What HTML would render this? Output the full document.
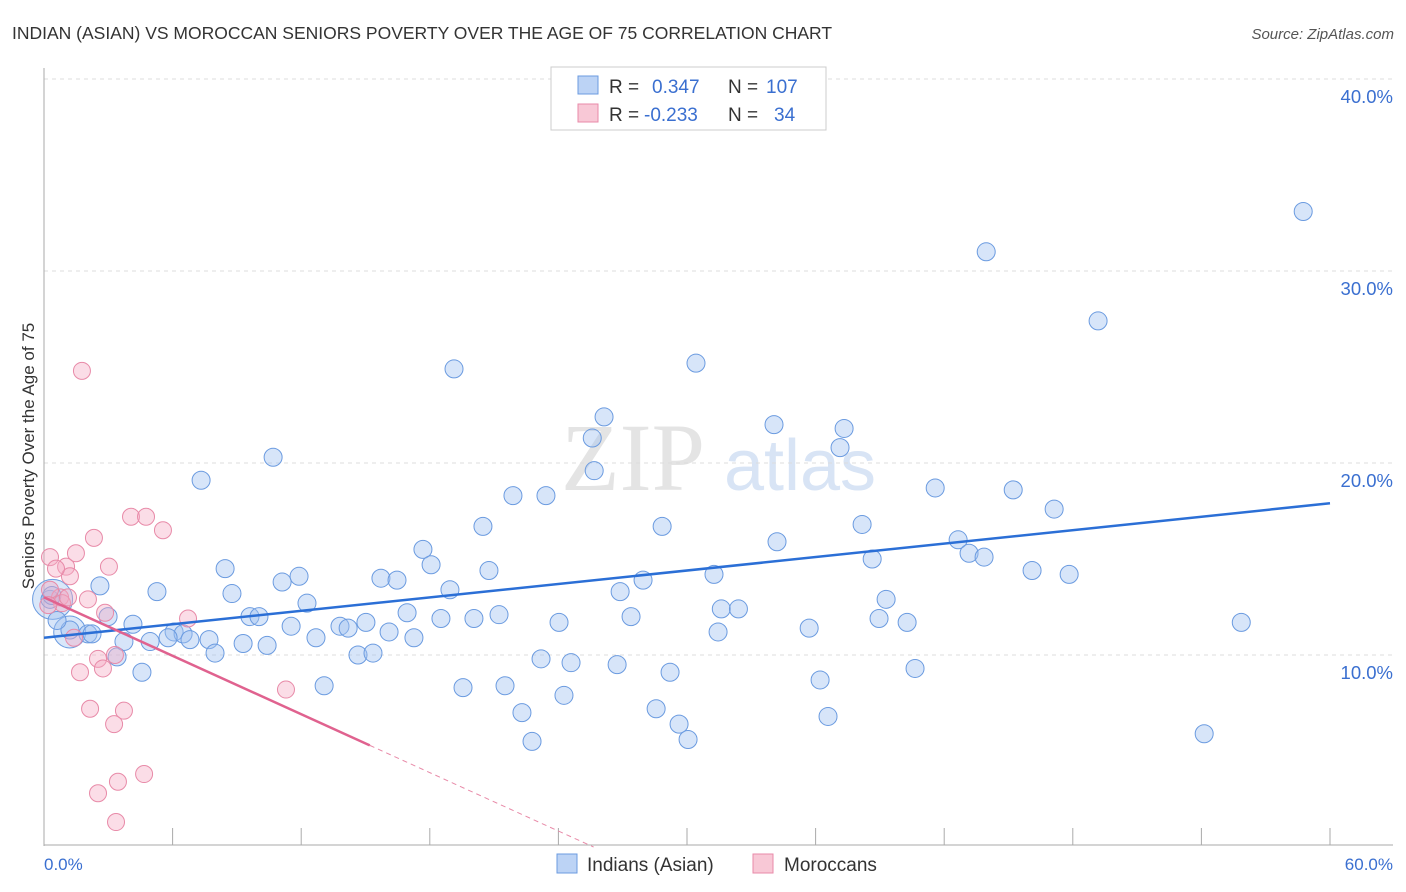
<!DOCTYPE html>
<html><head><meta charset="utf-8"><style>
body{margin:0;background:#fff;font-family:"Liberation Sans",sans-serif}
</style></head><body>
<svg id="c" width="1406" height="892" style="display:block">
<text x="12" y="39" font-size="17.5" fill="#333">INDIAN (ASIAN) VS MOROCCAN SENIORS POVERTY OVER THE AGE OF 75 CORRELATION CHART</text>
<text x="1394" y="39" font-size="15" fill="#555" font-style="italic" text-anchor="end">Source: ZipAtlas.com</text>
<text x="633" y="490" font-size="96" fill="#e4e4e4" text-anchor="middle" font-family="Liberation Serif,serif">ZIP</text>
<text x="800" y="490" font-size="72" fill="#d8e4f5" text-anchor="middle">atlas</text>
<g id="grid"></g><g id="pts"></g><g id="lines"></g>
<text transform="translate(34,456) rotate(-90)" font-size="17" fill="#333" text-anchor="middle">Seniors Poverty Over the Age of 75</text>
<text x="44" y="870" font-size="17" fill="#3a6fd0">0.0%</text>
<text x="1393" y="870" font-size="17" fill="#3a6fd0" text-anchor="end">60.0%</text>
<g>
<rect x="551" y="67" width="275" height="63" fill="#fff" stroke="#ccc"/>
<rect x="578" y="76" width="20" height="18" fill="#bcd3f5" stroke="#6b9be0"/>
<rect x="578" y="104" width="20" height="18" fill="#f8c8d6" stroke="#e88aa8"/>
<text x="609" y="93" font-size="19" fill="#333">R = <tspan fill="#3a6fd0" x="652">0.347</tspan><tspan x="728" fill="#333">N = </tspan><tspan fill="#3a6fd0" x="766">107</tspan></text>
<text x="609" y="121" font-size="19" fill="#333">R = <tspan fill="#3a6fd0" x="644">-0.233</tspan><tspan x="728" fill="#333">N = </tspan><tspan fill="#3a6fd0" x="774">34</tspan></text>
</g>
<g>
<rect x="557" y="854" width="20" height="19" fill="#bcd3f5" stroke="#6b9be0"/>
<text x="587" y="871" font-size="19" fill="#333">Indians (Asian)</text>
<rect x="753" y="854" width="20" height="19" fill="#f8c8d6" stroke="#e88aa8"/>
<text x="784" y="871" font-size="19" fill="#333">Moroccans</text>
</g>
</svg>
<script>
const yTicks=[10,20,30,40];
const blueX=[58.75,43.96,49.18,19.13,30.42,26.13,34.06,37.33,25.58,37.14,10.69,25.67,7.33,41.58,45.22,21.88,23.42,47.13,20.48,28.84,38.17,34.2,42.65,17.68,43.16,43.86,38.64,18.06,8.45,20.76,31.26,46.1,47.83,15.72,11.9,16.47,11.11,27.95,2.61,5.27,18.94,8.77,26.88,39.29,12.27,31.6,32.4,16.94,2.99,9.61,10.03,21.23,20.06,27.39,18.52,38.96,40.27,55.86,24.03,4.15,11.53,13.81,14.19,15.02,31.45,35.7,6.07,16.1,1.21,2.05,6.49,2.24,17.26,12.69,5.79,7.7,4.95,3.73,6.81,9.29,10.41,0.61,0.28,0.37,7.98,14.65,15.35,3.41,23.19,24.59,26.74,29.21,40.64,4.57,13.07,19.55,21.51,36.21,24.26,28.56,22.3,36.58,29.63,30.05,22.77,54.13];
const blueY=[33.1,31.0,27.4,24.9,25.2,22.4,22.0,21.8,21.3,20.8,20.3,19.6,19.1,18.7,18.6,18.3,18.3,17.6,16.7,16.7,16.8,15.9,16.0,15.5,15.3,15.1,15.0,14.7,14.5,14.4,14.2,14.4,14.2,14.0,14.1,13.9,13.8,13.9,13.6,13.3,13.4,13.2,13.3,12.9,12.7,12.4,12.4,12.2,12.0,12.0,12.0,12.1,11.9,12.0,11.9,11.9,11.7,11.7,11.7,11.6,11.5,11.5,11.4,11.7,11.2,11.4,11.2,11.2,11.3,11.1,11.1,11.1,10.9,10.9,10.9,10.8,10.7,10.7,10.8,10.6,10.5,11.8,12.9,13.1,10.1,10.0,10.1,9.9,9.8,9.6,9.5,9.1,9.3,9.1,8.4,8.3,8.4,8.7,7.9,7.2,7.0,6.8,6.4,5.6,5.5,5.9];
const pinkX=[1.77,4.06,4.76,5.55,2.33,0.28,1.49,1.03,1.21,3.03,0.56,2.05,0.75,0.84,1.12,2.85,6.72,1.4,2.52,2.75,1.68,3.31,11.29,2.15,3.73,3.27,4.67,3.45,2.52,3.36,0.28,0.2];
const pinkY=[24.8,17.2,17.2,16.5,16.1,15.1,15.3,14.6,14.1,14.6,14.5,12.9,13.0,12.7,13.0,12.2,11.9,10.9,9.8,9.3,9.1,10.0,8.2,7.2,7.1,6.4,3.8,3.4,2.8,1.3,13.4,12.6];
const bigBlueX=[0.4,1.2];
const bigBlueY=[12.9,11.2];
const bigBlueR=[20,16];
const blueFit=[10.9,0.1167];
const pinkFit=[13.0,-0.507];
const pinkSolidEnd=15.2;
const sx=v=>44+v*(1286/60), sy=v=>847-v*19.2;
const NS="http://www.w3.org/2000/svg";
function mk(t,a,p){const e=document.createElementNS(NS,t);for(const k in a)e.setAttribute(k,a[k]);document.getElementById(p).appendChild(e);return e;}
for(const t of yTicks){
 const g=mk('line',{x1:44,x2:1393,y1:sy(t),y2:sy(t),stroke:'#ddd','stroke-dasharray':'4,4'},'grid');
 
 
 const l=mk('text',{x:1393,y:sy(t)+24,'font-size':18.5,fill:'#3a6fd0','text-anchor':'end'},'grid');
 l.textContent=t.toFixed(1)+'%';
 
 
}
const ax=mk('line',{x1:44,x2:44,y1:68,y2:846,stroke:'#aaa'},'grid');


const bx=mk('line',{x1:44,x2:1393,y1:845,y2:845,stroke:'#aaa'},'grid');


for(let i=1;i<=10;i++){const tk=mk('line',{x1:sx(i*6),x2:sx(i*6),y1:828,y2:845,stroke:'#aaa'},'grid');
 
 }
bigBlueX.forEach((x,i)=>{const c=mk('circle',{cx:sx(x),cy:sy(bigBlueY[i]),r:bigBlueR[i],fill:'rgba(160,194,240,0.4)',stroke:'#6b9be0','stroke-width':1},'pts');
 
 });
blueX.forEach((x,i)=>{const c=mk('circle',{cx:sx(x),cy:sy(blueY[i]),r:9,fill:'rgba(160,194,240,0.42)',stroke:'#6b9be0','stroke-width':1},'pts');
 
 });
pinkX.forEach((x,i)=>{const c=mk('circle',{cx:sx(x),cy:sy(pinkY[i]),r:8.5,fill:'rgba(245,170,195,0.4)',stroke:'#e88aa8','stroke-width':1},'pts');
 
 });
const bl=mk('line',{x1:sx(0),y1:sy(blueFit[0]),x2:sx(60),y2:sy(blueFit[0]+blueFit[1]*60),stroke:'#2b6fd6','stroke-width':2.5},'lines');


const pl=mk('line',{x1:sx(0),y1:sy(pinkFit[0]),x2:sx(pinkSolidEnd),y2:sy(pinkFit[0]+pinkFit[1]*pinkSolidEnd),stroke:'#e0628f','stroke-width':2.5},'lines');


const xEnd=-pinkFit[0]/pinkFit[1];
const pd=mk('line',{x1:sx(pinkSolidEnd),y1:sy(pinkFit[0]+pinkFit[1]*pinkSolidEnd),x2:sx(xEnd),y2:sy(0),stroke:'#e88aa8','stroke-width':1,'stroke-dasharray':'5,4'},'lines');


</script>
</body></html>
